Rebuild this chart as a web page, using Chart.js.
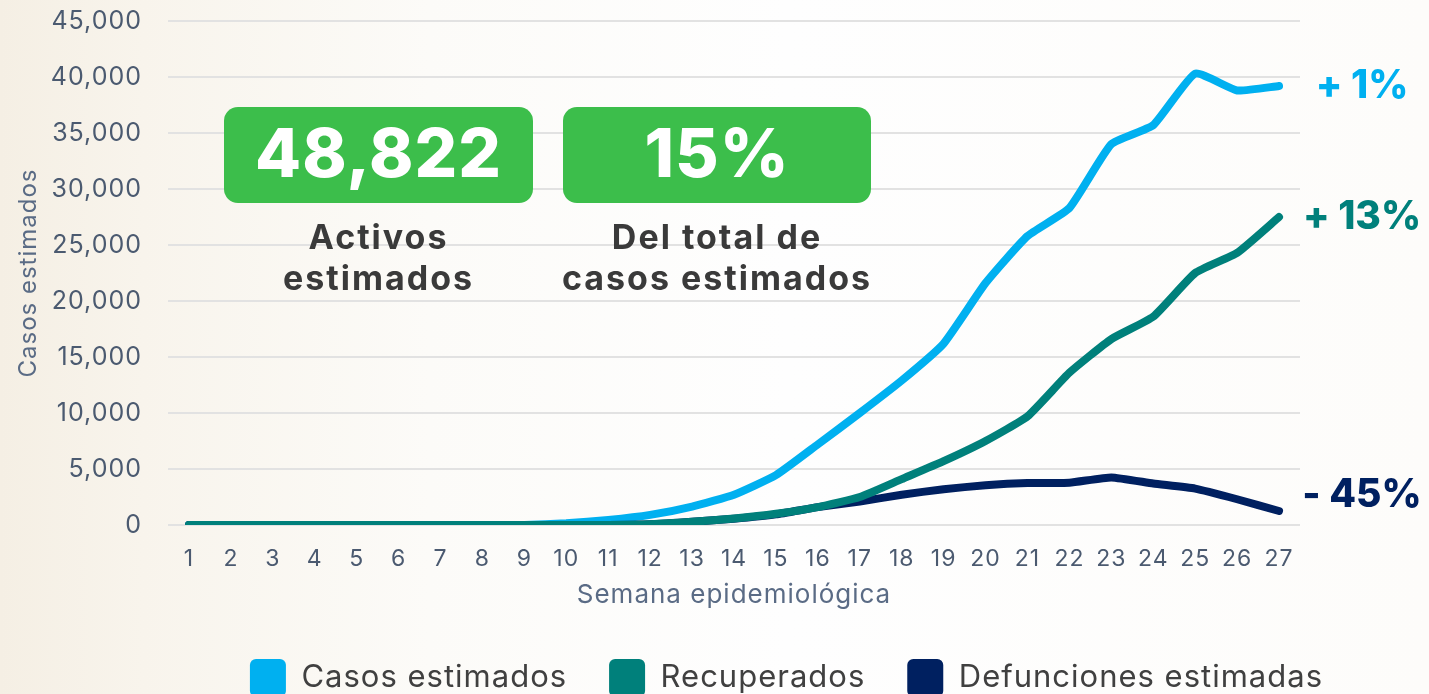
<!DOCTYPE html>
<html>
<head>
<meta charset="utf-8">
<script src="https://cdn.jsdelivr.net/npm/chart.js@4/dist/chart.umd.min.js"></script>
<style>
  html, body { margin: 0; padding: 0; overflow: hidden; }
  body {
    width: 1429px; height: 694px;
    background: linear-gradient(to right, #f5efe4 0%, #f8f4ec 10%, #fcfbf8 30%, #fefefe 55%, #fdfcfa 100%);
  }
  #wrap { position: relative; width: 1429px; height: 707px; }
</style>
</head>
<body>
<div id="wrap"><canvas id="chart" width="1429" height="707"></canvas></div>
<script>
const weeks = ["1","2","3","4","5","6","7","8","9","10","11","12","13","14","15","16","17","18","19","20","21","22","23","24","25","26","27"];
const casosEstimados = [0,0,0,0,0,0,0,0,0,150,450,900,1650,2700,4450,7200,10000,12900,16200,21600,25800,28300,34000,35700,40300,38800,39200];
const recuperados = [0,0,0,0,0,0,0,0,0,0,0,60,280,580,1000,1600,2500,4100,5700,7500,9700,13600,16600,18600,22500,24300,27500];
const defunciones = [0,0,0,0,0,0,0,0,0,0,0,60,280,560,950,1600,2100,2700,3200,3550,3750,3780,4250,3700,3250,2300,1250];
const yTicks = [0,5000,10000,15000,20000,25000,30000,35000,40000,45000];

const boxValues = ["48,822", "15%"];
const boxCaptions = [["Activos", "estimados"], ["Del total de", "casos estimados"]];
const endLabels = ["+ 1%", "+ 13%", "- 45%"];

const colors = ["#00b0f0", "#00807b", "#002060"];
const fontFamily = "Inter, 'Open Sans', sans-serif";

// wider lettering, closer to the original typeface
const spacingPlugin = {
  id: "spacing",
  beforeLayout(chart) { chart.ctx.letterSpacing = "1px"; },
  beforeDraw(chart) { chart.ctx.letterSpacing = "1px"; }
};

const overlayPlugin = {
  id: "overlay",
  afterDraw(chart) {
    const ctx = chart.ctx;
    const y = chart.scales.y;
    ctx.save();
    ctx.textAlign = "center";
    ctx.textBaseline = "middle";

    // green boxes with captions
    const boxes = [{ x: 224, w: 309 }, { x: 563, w: 308 }];
    boxes.forEach((b, i) => {
      ctx.fillStyle = "#3cbe4b";
      ctx.beginPath();
      ctx.roundRect(b.x, 107, b.w, 96, 14);
      ctx.fill();
      ctx.fillStyle = "#ffffff";
      ctx.letterSpacing = "1px";
      ctx.font = "800 67px " + fontFamily;
      ctx.fillText(boxValues[i], b.x + b.w / 2, 157);
      ctx.fillStyle = "#3a3a3a";
      ctx.letterSpacing = "2px";
      ctx.font = "700 34px " + fontFamily;
      boxCaptions[i].forEach((line, j) => {
        ctx.fillText(line, b.x + b.w / 2, 239 + j * 41);
      });
    });

    // end-of-line labels
    const series = [casosEstimados, recuperados, defunciones];
    const dy = [0, 0, -16];
    ctx.letterSpacing = "0px";
    ctx.font = "800 39px " + fontFamily;
    series.forEach((s, i) => {
      ctx.fillStyle = colors[i];
      ctx.fillText(endLabels[i], 1362, y.getPixelForValue(s[s.length - 1]) + dy[i]);
    });
    ctx.restore();
  }
};

const lineStyle = (color, order) => ({
  borderColor: color,
  backgroundColor: color,
  borderWidth: 8,
  pointRadius: 0,
  tension: 0.15,
  borderCapStyle: "round",
  borderJoinStyle: "round",
  fill: false,
  order
});

new Chart(document.getElementById("chart"), {
  type: "line",
  data: {
    labels: weeks,
    datasets: [
      { label: "Casos estimados", data: casosEstimados, ...lineStyle(colors[0], 2) },
      { label: "Recuperados", data: recuperados, ...lineStyle(colors[1], 0) },
      { label: "Defunciones estimadas", data: defunciones, ...lineStyle(colors[2], 1) }
    ]
  },
  options: {
    responsive: false,
    animation: false,
    devicePixelRatio: 1,
    layout: { padding: { top: 0, right: 64, left: 0, bottom: 0 } },
    plugins: {
      tooltip: { enabled: false },
      legend: {
        position: "bottom",
        align: "end",
        labels: {
          boxWidth: 36,
          boxHeight: 38,
          useBorderRadius: true,
          borderRadius: 6,
          padding: 42,
          color: "#404040",
          font: { family: fontFamily, size: 31, weight: "400" },
          sort: (a, b) => a.datasetIndex - b.datasetIndex,
          generateLabels: chart =>
            Chart.defaults.plugins.legend.labels.generateLabels(chart).map(l => ({ ...l, lineWidth: 0 }))
        }
      }
    },
    scales: {
      x: {
        offset: true,
        grid: { display: false },
        border: { display: false },
        ticks: { color: "#4b5a70", font: { family: fontFamily, size: 23 }, padding: 12, maxRotation: 0, autoSkip: false },
        title: { display: true, text: "Semana epidemiológica", color: "#5a6b85", font: { family: fontFamily, size: 26 }, padding: { top: 0, bottom: 6 } },
        afterFit: s => { s.height = 92; }
      },
      y: {
        min: 0,
        max: 45000,
        afterBuildTicks: s => { s.ticks = yTicks.map(v => ({ value: v })); },
        grid: { color: "#e2e2e2", lineWidth: 2, drawTicks: false },
        border: { display: false },
        ticks: {
          color: "#4b5a70",
          font: { family: fontFamily, size: 25 },
          padding: 26,
          callback: v => v.toLocaleString("en-US")
        },
        title: { display: true, text: "Casos estimados", color: "#5a6b85", font: { family: fontFamily, size: 24 }, padding: { top: 14, bottom: 0 } },
        afterFit: s => { s.width = 168; s.paddingTop = 21; }
      },
      yR: {
        position: "right",
        display: true,
        grid: { display: false },
        border: { display: false },
        ticks: { display: false },
        afterFit: s => { s.width = 65; s.paddingTop = 0; }
      }
    }
  },
  plugins: [spacingPlugin, overlayPlugin]
});
</script>
</body>
</html>
